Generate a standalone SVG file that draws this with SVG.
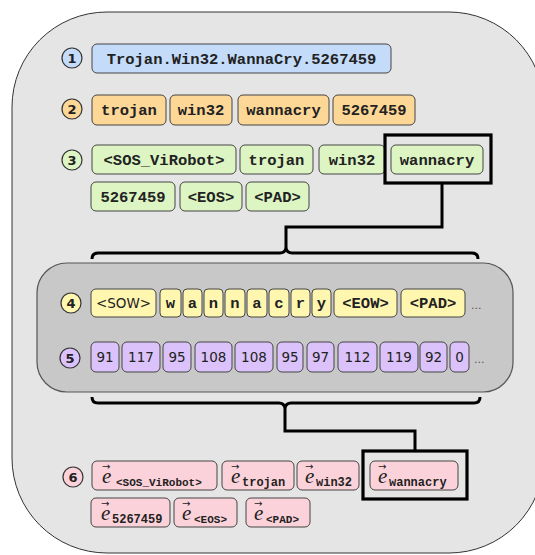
<svg xmlns="http://www.w3.org/2000/svg" width="535" height="555" viewBox="0 0 535 555">
<style>
.tok{stroke:#444;stroke-width:1;}
.b1{fill:#c4dcfa}.b2{fill:#fdd796}.b3{fill:#dcf5c3}.b4{fill:#fff7b0}.b5{fill:#dcc2fb}.b6{fill:#fcd2da}
.circ{stroke:#333;stroke-width:1.2;}
.num{font-family:"DejaVu Sans",sans-serif;font-size:13px;font-weight:bold;fill:#222;text-anchor:middle;}
.mono{font-family:"Liberation Mono","Courier New",monospace;font-size:15.5px;font-weight:bold;fill:#222;text-anchor:middle;}
.sans{font-family:"DejaVu Sans",sans-serif;font-size:13.5px;fill:#222;text-anchor:middle;}
.ev{font-family:"Liberation Serif",serif;font-size:21px;font-style:italic;fill:#222;}
.arr{font-family:"DejaVu Sans",sans-serif;font-size:10px;fill:#222;}
.sub{font-family:"Liberation Mono","Courier New",monospace;font-size:12px;font-weight:bold;fill:#222;}
.subs{font-family:"Liberation Mono","Courier New",monospace;font-size:11px;font-weight:bold;fill:#222;}
.dots{font-family:"DejaVu Sans",sans-serif;font-size:11px;fill:#555;}
.hl{fill:none;stroke:#000;stroke-width:3.2;}
.conn{fill:none;stroke:#000;stroke-width:3;stroke-linejoin:miter;}
</style>
<rect id="outer" x="12" y="12" width="532" height="541" rx="95" ry="95" fill="#e5e5e5" stroke="#333" stroke-width="1"/>
<rect id="inner" x="37" y="263" width="476" height="129" rx="30" ry="30" fill="#c8c8c8" stroke="#555" stroke-width="1.2"/>

<g id="row1">
<circle class="circ b1" cx="72" cy="58" r="10"/><text class="num" x="72" y="62.5">1</text>
<rect class="tok b1" x="92" y="44" width="299" height="29" rx="5"/><text class="mono" x="241.5" y="63.5">Trojan.Win32.WannaCry.5267459</text>
</g>

<g id="row2">
<circle class="circ b2" cx="72" cy="109" r="10"/><text class="num" x="72" y="113.5">2</text>
<rect class="tok b2" x="92" y="95" width="74" height="30" rx="5"/><text class="mono" x="129" y="115">trojan</text>
<rect class="tok b2" x="170" y="95" width="62" height="30" rx="5"/><text class="mono" x="201" y="115">win32</text>
<rect class="tok b2" x="238" y="95" width="91" height="30" rx="5"/><text class="mono" x="283.5" y="115">wannacry</text>
<rect class="tok b2" x="333" y="95" width="82" height="30" rx="5"/><text class="mono" x="374" y="115">5267459</text>
</g>

<g id="row3">
<circle class="circ b3" cx="72" cy="160" r="10"/><text class="num" x="72" y="164.5">3</text>
<rect class="tok b3" x="92" y="145" width="144" height="29" rx="5"/><text class="mono" x="164" y="164.5">&lt;SOS_ViRobot&gt;</text>
<rect class="tok b3" x="240" y="145" width="73" height="29" rx="5"/><text class="mono" x="276.5" y="164.5">trojan</text>
<rect class="tok b3" x="319" y="145" width="66" height="29" rx="5"/><text class="mono" x="352" y="164.5">win32</text>
<rect class="tok b3" x="391" y="145" width="92" height="29" rx="5"/><text class="mono" x="437" y="164.5">wannacry</text>
<rect class="tok b3" x="91" y="182" width="84" height="29" rx="5"/><text class="mono" x="133" y="201.5">5267459</text>
<rect class="tok b3" x="180" y="182" width="62" height="29" rx="5"/><text class="mono" x="211" y="201.5">&lt;EOS&gt;</text>
<rect class="tok b3" x="246" y="182" width="63" height="29" rx="5"/><text class="mono" x="277.5" y="201.5">&lt;PAD&gt;</text>
<rect class="hl" x="385" y="135" width="106" height="48"/>
</g>

<g id="row4">
<circle class="circ b4" cx="71" cy="303" r="10"/><text class="num" x="71" y="307.5">4</text>
<rect class="tok b4" x="91" y="289" width="65" height="28" rx="5"/><text class="sans" x="123.5" y="308">&lt;SOW&gt;</text>
<rect class="tok b4" x="160" y="289" width="21" height="28" rx="4"/><text class="mono" x="170.5" y="308">w</text>
<rect class="tok b4" x="183" y="289" width="19" height="28" rx="4"/><text class="mono" x="192.5" y="308">a</text>
<rect class="tok b4" x="204" y="289" width="19" height="28" rx="4"/><text class="mono" x="213.5" y="308">n</text>
<rect class="tok b4" x="225" y="289" width="20" height="28" rx="4"/><text class="mono" x="235" y="308">n</text>
<rect class="tok b4" x="247" y="289" width="20" height="28" rx="4"/><text class="mono" x="257" y="308">a</text>
<rect class="tok b4" x="269" y="289" width="20" height="28" rx="4"/><text class="mono" x="279" y="308">c</text>
<rect class="tok b4" x="291" y="289" width="19" height="28" rx="4"/><text class="mono" x="300.5" y="308">r</text>
<rect class="tok b4" x="312" y="289" width="19" height="28" rx="4"/><text class="mono" x="321.5" y="308">y</text>
<rect class="tok b4" x="334" y="289" width="63" height="28" rx="5"/><text class="mono" x="365.5" y="308">&lt;EOW&gt;</text>
<rect class="tok b4" x="401" y="289" width="64" height="28" rx="5"/><text class="mono" x="433" y="308">&lt;PAD&gt;</text>
<text class="dots" x="471" y="309">...</text>
</g>

<g id="row5">
<circle class="circ b5" cx="70" cy="358" r="10"/><text class="num" x="70" y="362.5">5</text>
<rect class="tok b5" x="91" y="342" width="28" height="30" rx="5"/><text class="sans" x="105" y="362">91</text>
<rect class="tok b5" x="122" y="342" width="38" height="30" rx="5"/><text class="sans" x="141" y="362">117</text>
<rect class="tok b5" x="163" y="342" width="28" height="30" rx="5"/><text class="sans" x="177" y="362">95</text>
<rect class="tok b5" x="195" y="342" width="37" height="30" rx="5"/><text class="sans" x="213.5" y="362">108</text>
<rect class="tok b5" x="235" y="342" width="38" height="30" rx="5"/><text class="sans" x="254" y="362">108</text>
<rect class="tok b5" x="277" y="342" width="26" height="30" rx="5"/><text class="sans" x="290" y="362">95</text>
<rect class="tok b5" x="307" y="342" width="27" height="30" rx="5"/><text class="sans" x="320.5" y="362">97</text>
<rect class="tok b5" x="338" y="342" width="39" height="30" rx="5"/><text class="sans" x="357.5" y="362">112</text>
<rect class="tok b5" x="380" y="342" width="38" height="30" rx="5"/><text class="sans" x="399" y="362">119</text>
<rect class="tok b5" x="420" y="342" width="27" height="30" rx="5"/><text class="sans" x="433.5" y="362">92</text>
<rect class="tok b5" x="450" y="342" width="19" height="30" rx="5"/><text class="sans" x="459.5" y="362">0</text>
<text class="dots" x="474" y="363">...</text>
</g>

<g id="row6">
<circle class="circ b6" cx="73" cy="477" r="10"/><text class="num" x="73" y="481.5">6</text>
<rect class="tok b6" x="92" y="461" width="125" height="29" rx="5"/>
<text class="arr" x="102" y="470">→</text><text class="ev" x="102" y="483">e</text><text class="subs" x="116" y="486">&lt;SOS_ViRobot&gt;</text>
<rect class="tok b6" x="222" y="461" width="72" height="29" rx="5"/>
<text class="arr" x="231" y="470">→</text><text class="ev" x="231" y="483">e</text><text class="sub" x="242" y="486">trojan</text>
<rect class="tok b6" x="297" y="461" width="62" height="29" rx="5"/>
<text class="arr" x="305" y="470">→</text><text class="ev" x="305" y="483">e</text><text class="sub" x="316" y="486">win32</text>
<rect class="tok b6" x="370" y="461" width="88" height="29" rx="5"/>
<text class="arr" x="378" y="470">→</text><text class="ev" x="378" y="483">e</text><text class="sub" x="389" y="486">wannacry</text>
<rect class="tok b6" x="91" y="498" width="79" height="29" rx="5"/>
<text class="arr" x="101" y="507">→</text><text class="ev" x="101" y="520">e</text><text class="sub" x="112" y="523">5267459</text>
<rect class="tok b6" x="174" y="498" width="63" height="29" rx="5"/>
<text class="arr" x="182" y="507">→</text><text class="ev" x="182" y="520">e</text><text class="subs" x="194" y="523">&lt;EOS&gt;</text>
<rect class="tok b6" x="246" y="498" width="64" height="29" rx="5"/>
<text class="arr" x="254" y="507">→</text><text class="ev" x="254" y="520">e</text><text class="subs" x="266" y="523">&lt;PAD&gt;</text>
<rect class="hl" x="363" y="451" width="104" height="48"/>
</g>

<g id="connectors">
<path class="conn" d="M442,183 L442,227 L286,227 L286,248"/>
<path class="conn" d="M92,259 Q92,253 98,253 L280,253 Q285,253 286,248 Q287,253 292,253 L472,253 Q478,253 478,259"/>
<path class="conn" d="M92,397 Q92,403 98,403 L279,403 Q284,403 285,408 Q286,403 291,403 L474,403 Q480,403 480,397"/>
<path class="conn" d="M285,408 L285,431 L415,431 L415,451"/>
</g>
</svg>
